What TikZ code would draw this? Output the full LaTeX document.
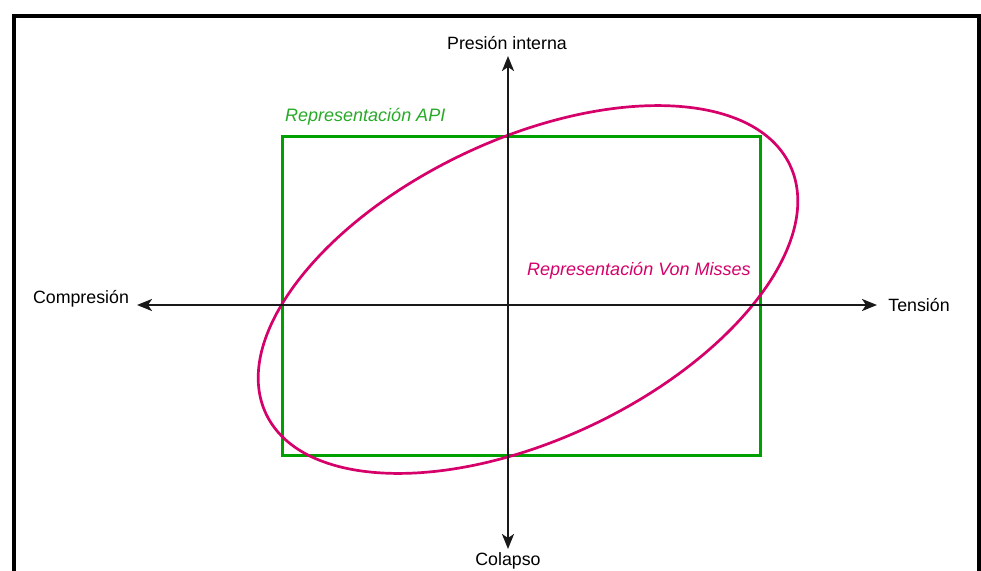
\documentclass[tikz,border=0pt]{standalone}
\usepackage{fontspec}
\setmainfont{Liberation Sans}
\usetikzlibrary{arrows.meta}
\definecolor{apigreen}{RGB}{0,160,0}
\definecolor{apitext}{RGB}{40,170,40}
\definecolor{vmred}{RGB}{214,0,106}
\definecolor{axisgray}{RGB}{25,25,25}
\tikzset{
  frameline/.style={line width=4pt, black},
  axisline/.style={line width=2.3pt, axisgray, {Stealth[length=15pt,width=12pt,inset=4pt]}-{Stealth[length=15pt,width=12pt,inset=4pt]}},
  axislabel/.style={font=\fontsize{17.8}{20}\selectfont, inner sep=0pt, text=black},
  apibox/.style={line width=3pt, apigreen},
  vmcurve/.style={line width=2.7pt, vmred},
  apilabel/.style={font=\fontsize{18}{20}\selectfont\itshape, text=apitext, inner sep=0pt, anchor=west},
  vmlabel/.style={font=\fontsize{18}{20}\selectfont\itshape, text=vmred, inner sep=0pt, anchor=west}
}
\begin{document}
\begin{tikzpicture}[x=1pt,y=-1pt]
\useasboundingbox (0,0) rectangle (981,570);
\fill[white] (0,0) rectangle (981,570);
% frame
\draw[frameline] (14,572) -- (14,15.5) -- (979,15.5) -- (979,572);
% axis end points
\coordinate (L) at (137,305);
\coordinate (R) at (877,305);
\coordinate (T) at (508,56);
\coordinate (B) at (508,549);
% API rectangle
\draw[apibox] (282,136) rectangle (760,455);
% Von Mises ellipse
\draw[vmcurve] (528,289.5) ellipse [x radius=290pt, y radius=150pt, rotate=25.4];
% axes
\draw[axisline] (L) -- (R);
\draw[axisline] (B) -- (T);
% labels
\node[axislabel] (ptop) at (507,43) {Presión interna};
\node[axislabel] (pleft) at (81,299) {Compresión};
\node[axislabel] (pright) at (919,305) {Tensión};
\node[axislabel] (pbot) at (508,561) {Colapso};
\node[apilabel] (api) at (285,117) {Representación API};
\node[vmlabel] (vm) at (527,271) {Representación Von Misses};
\end{tikzpicture}
\end{document}
